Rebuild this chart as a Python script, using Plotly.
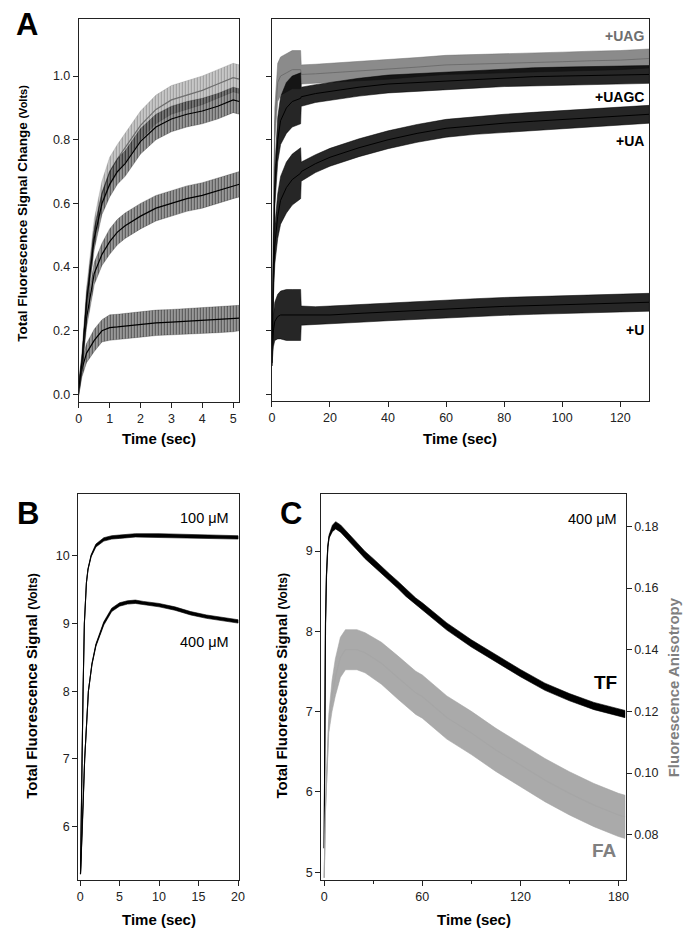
import plotly.graph_objects as go

# ---------------- data ----------------
# Panel A, left (0-5.2 s)
tA = [0, 0.1, 0.25, 0.5, 0.75, 1.0, 1.25, 1.5, 2.0, 2.5, 3.0, 3.5, 4.0, 4.5, 5.0, 5.2]
A_UAG = [0.02, 0.10, 0.30, 0.51, 0.63, 0.70, 0.74, 0.775, 0.845, 0.895, 0.925, 0.94, 0.955, 0.975, 0.995, 0.99]
A_UAGC = [0.02, 0.10, 0.29, 0.49, 0.60, 0.66, 0.70, 0.725, 0.795, 0.84, 0.865, 0.88, 0.89, 0.905, 0.925, 0.92]
A_UA = [0.02, 0.09, 0.24, 0.38, 0.44, 0.48, 0.51, 0.53, 0.56, 0.585, 0.60, 0.615, 0.625, 0.64, 0.655, 0.66]
A_U = [0.02, 0.08, 0.13, 0.17, 0.20, 0.21, 0.212, 0.215, 0.22, 0.225, 0.227, 0.23, 0.232, 0.234, 0.237, 0.24]
A_noise = [0.02, 0.025, 0.03, 0.035, 0.035, 0.04, 0.04, 0.04, 0.04, 0.04, 0.04, 0.04, 0.04, 0.04, 0.04, 0.04]

# Panel A, right (0-130 s)
tR = [0, 0.5, 1, 2, 3, 5, 7, 9.9, 10.1, 15, 20, 30, 40, 50, 60, 70, 80, 90, 100, 110, 120, 130]
R_UAG = [0.1, 0.6, 0.85, 0.98, 1.0, 1.01, 1.02, 1.02, 1.005, 1.007, 1.01, 1.015, 1.02, 1.028, 1.035, 1.037,
         1.04, 1.042, 1.045, 1.048, 1.05, 1.055]
R_UAGC = [0.1, 0.45, 0.65, 0.8, 0.86, 0.9, 0.92, 0.93, 0.935, 0.945, 0.952, 0.965, 0.975, 0.98, 0.985, 0.99,
          0.995, 0.998, 1.0, 1.002, 1.003, 1.005]
R_UA = [0.1, 0.35, 0.47, 0.56, 0.61, 0.65, 0.675, 0.695, 0.70, 0.725, 0.745, 0.775, 0.80, 0.82, 0.836, 0.845,
        0.852, 0.858, 0.864, 0.869, 0.874, 0.88]
R_U = [0.1, 0.2, 0.23, 0.245, 0.25, 0.25, 0.25, 0.25, 0.248, 0.248, 0.25, 0.255, 0.26, 0.265, 0.27, 0.273,
       0.277, 0.28, 0.283, 0.286, 0.288, 0.29]
R_noise = [0.01, 0.05, 0.06, 0.07, 0.075, 0.08, 0.08, 0.08, 0.03, 0.028, 0.028, 0.028, 0.028, 0.028, 0.028,
           0.028, 0.028, 0.028, 0.028, 0.028, 0.028, 0.028]
R_noise_gray = [0.01, 0.04, 0.05, 0.06, 0.06, 0.06, 0.06, 0.06, 0.03, 0.03, 0.03, 0.03, 0.03, 0.03, 0.03,
                0.03, 0.03, 0.03, 0.03, 0.03, 0.03, 0.03]
labels_A = ["+UAG", "+UAGC", "+UA", "+U"]

# Panel B (0-20 s)
t100 = [0.05, 0.17, 0.25, 0.375, 0.54, 0.8, 1.0, 1.4, 2.0, 3.0, 4.0, 5.0, 7.0, 10.0, 13.0, 16.0, 20.0]
B_100 = [5.3, 6.0, 7.0, 8.0, 9.0, 9.6, 9.8, 10.0, 10.15, 10.24, 10.27, 10.28, 10.3, 10.3, 10.29, 10.28, 10.27]
B_100_noise = [0, 0, 0, 0, 0, 0.005, 0.01, 0.015, 0.022, 0.025, 0.025, 0.025, 0.025, 0.025, 0.025, 0.025, 0.025]
t400 = [0.05, 0.3, 0.58, 1.05, 1.5, 2.0, 3.0, 4.0, 5.0, 6.0, 7.0, 8.0, 10.0, 12.0, 14.0, 16.0, 18.0, 20.0]
B_400 = [5.3, 6.0, 7.0, 8.0, 8.4, 8.68, 9.0, 9.2, 9.28, 9.31, 9.32, 9.3, 9.27, 9.22, 9.15, 9.1, 9.06, 9.03]
B_400_noise = [0, 0, 0, 0.003, 0.01, 0.018, 0.025, 0.025, 0.025, 0.025, 0.025, 0.025, 0.025, 0.025, 0.025,
               0.025, 0.025, 0.025]

# Panel C (0-184 s)
tTF = [0, 0.4, 0.8, 1.4, 2.2, 3, 5, 7, 10, 15, 20, 25, 30, 35, 40, 45, 50, 56, 60, 75, 90, 105, 120, 135, 150,
       165, 180, 184]
C_TF = [5.3, 6.9, 8.1, 8.7, 9.05, 9.18, 9.28, 9.32, 9.28, 9.17, 9.06, 8.95, 8.86, 8.76, 8.67, 8.58, 8.48, 8.37,
        8.31, 8.06, 7.85, 7.66, 7.48, 7.31, 7.18, 7.07, 6.99, 6.97]
C_TF_noise = [0, 0, 0, 0, 0.01, 0.02, 0.04, 0.045, 0.045, 0.045, 0.045, 0.045, 0.045, 0.045, 0.045, 0.045,
              0.045, 0.045, 0.045, 0.045, 0.045, 0.045, 0.045, 0.045, 0.045, 0.045, 0.045, 0.045]
tFA = [0, 0.8, 2.8, 4.8, 6.8, 9.9, 13, 20, 25, 35, 45, 56, 60, 75, 90, 105, 120, 135, 150, 165, 180, 184]
C_FA = [0.066, 0.089, 0.116, 0.125, 0.131, 0.1375, 0.14, 0.14, 0.139, 0.1356, 0.131, 0.126, 0.1248, 0.118,
        0.113, 0.1075, 0.1026, 0.0977, 0.0934, 0.0896, 0.0864, 0.0858]
C_FA_noise = [0, 0.001, 0.003, 0.005, 0.006, 0.0065, 0.0065, 0.0065, 0.0065, 0.0068, 0.007, 0.007, 0.007,
              0.007, 0.007, 0.007, 0.007, 0.007, 0.007, 0.007, 0.007, 0.007]

# ---------------- figure ----------------
W, H = 699, 936
OFF = 8  # page body margin offset
FONT = "Liberation Sans, Arial, Helvetica, sans-serif"


def fx(px):
    return (px - OFF) / W


def fy(py):
    return 1 - (py - OFF) / H


fig = go.Figure()


def band(t, mid, hw, xa, ya, color, fillcolor, lw=1.0, pattern=None):
    hi = [m + h for m, h in zip(mid, hw)]
    lo = [m - h for m, h in zip(mid, hw)]
    kw = {}
    if pattern is not None:
        kw["fillpattern"] = pattern
    fig.add_trace(go.Scatter(x=list(t) + list(t)[::-1], y=hi + lo[::-1], fill="toself",
                             fillcolor=fillcolor, line=dict(width=0.6, color=fillcolor), mode="lines",
                             xaxis=xa, yaxis=ya, hoverinfo="skip", showlegend=False, **kw))
    fig.add_trace(go.Scatter(x=t, y=mid, mode="lines", line=dict(color=color, width=lw),
                             xaxis=xa, yaxis=ya, showlegend=False))


GRAY = "#6e6e6e"
LGRAY = "#a6a6a6"

pat_black = dict(shape="|", size=3, solidity=0.45, fgcolor="black", bgcolor="rgba(0,0,0,0.35)")
pat_gray = dict(shape="|", size=3, solidity=0.45, fgcolor="#666666", bgcolor="rgba(120,120,120,0.35)")

# Panel A left
band(tA, A_U, A_noise, "x", "y", "black", "rgba(0,0,0,0.4)", lw=1.2, pattern=pat_black)
band(tA, A_UA, A_noise, "x", "y", "black", "rgba(0,0,0,0.4)", lw=1.2, pattern=pat_black)
band(tA, A_UAG, [v + 0.005 for v in A_noise], "x", "y", GRAY, "rgba(110,110,110,0.4)", lw=1.2,
     pattern=pat_gray)
band(tA, A_UAGC, A_noise, "x", "y", "black", "rgba(0,0,0,0.4)", lw=1.2, pattern=pat_black)

# Panel A right
band(tR, R_U, R_noise, "x2", "y2", "black", "rgba(0,0,0,0.85)")
band(tR, R_UA, R_noise, "x2", "y2", "black", "rgba(0,0,0,0.85)")
band(tR, R_UAG, R_noise_gray, "x2", "y2", GRAY, "rgba(110,110,110,0.8)")
band(tR, R_UAGC, R_noise, "x2", "y2", "black", "rgba(0,0,0,0.85)")

# Panel B
band(t100, B_100, B_100_noise, "x3", "y3", "black", "black", lw=1.1)
band(t400, B_400, B_400_noise, "x3", "y3", "black", "black", lw=1.1)

# Panel C
band(tTF, C_TF, C_TF_noise, "x4", "y4", "black", "black", lw=1.2)
band(tFA, C_FA, C_FA_noise, "x4", "y5", LGRAY, "rgba(165,165,165,0.95)", lw=1.2)

AX = dict(showline=True, linecolor="#222", linewidth=1, ticks="outside", ticklen=5, tickcolor="#222",
          tickwidth=1, showgrid=False, zeroline=False, tickfont=dict(family=FONT, size=12.5, color="#222"),
          fixedrange=True)

fig.update_layout(
    width=W, height=H, margin=dict(l=0, r=0, t=0, b=0), paper_bgcolor="white", plot_bgcolor="white",
    font=dict(family=FONT, color="black"),
    xaxis=dict(AX, domain=[fx(76.7), fx(239.3)], range=[0, 5.2], tickvals=[0, 1, 2, 3, 4, 5], mirror=True,
               anchor="y"),
    yaxis=dict(AX, domain=[fy(401.5), fy(19)], range=[-0.022, 1.179], tickvals=[0, 0.2, 0.4, 0.6, 0.8, 1.0],
               tickformat=".1f", mirror=True, anchor="x"),
    xaxis2=dict(AX, domain=[fx(272.3), fx(654.7)], range=[0, 130], tickvals=[0, 20, 40, 60, 80, 100, 120],
                mirror=True, anchor="y2"),
    yaxis2=dict(AX, domain=[fy(401), fy(18.7)], range=[-0.02, 1.18], tickvals=[0, 0.2, 0.4, 0.6, 0.8, 1.0],
                showticklabels=False, mirror=True, anchor="x2"),
    xaxis3=dict(AX, domain=[fx(76), fx(239.3)], range=[-0.25, 20.16], tickvals=[0, 5, 10, 15, 20],
                mirror=True, anchor="y3"),
    yaxis3=dict(AX, domain=[fy(880), fy(494.3)], range=[5.213, 10.906], tickvals=[6, 7, 8, 9, 10],
                mirror=True, anchor="x3"),
    xaxis4=dict(AX, domain=[fx(322.3), fx(630.7)], range=[-1.8, 184.4], tickvals=[0, 60, 120, 180],
                minor=dict(ticks="outside", ticklen=3, tickvals=[30, 90, 150], tickcolor="#222"),
                mirror=True, anchor="y4"),
    yaxis4=dict(AX, domain=[fy(880), fy(494.3)], range=[4.904, 9.706], tickvals=[5, 6, 7, 8, 9],
                anchor="x4"),
    yaxis5=dict(AX, domain=[fy(880), fy(494.3)], range=[0.0653, 0.1904],
                tickvals=[0.08, 0.10, 0.12, 0.14, 0.16, 0.18], tickformat=".2f", overlaying="y4",
                side="right", anchor="x4"),
)

ann = []


def txt(x, y, s, size, bold=False, color="black", xanchor="center", angle=0):
    ann.append(dict(x=fx(x), y=fy(y), xref="paper", yref="paper", text=(f"<b>{s}</b>" if bold else s),
                    showarrow=False, xanchor=xanchor, yanchor="middle", textangle=angle,
                    font=dict(family=FONT, size=size, color=color)))


# panel letters
txt(24, 24, "A", 31, bold=True)
txt(25, 513, "B", 31, bold=True)
txt(292, 513, "C", 31, bold=True)

# axis titles
txt(19, 213, "Total Fluorescence Signal Change <span style='font-size:11px'>(Volts)</span>", 13.5, bold=True,
    angle=-90)
txt(28, 686, "Total Fluorescence Signal <span style='font-size:12px'>(Volts)</span>", 15, bold=True, angle=-90)
txt(282, 686, "Total Fluorescence Signal <span style='font-size:12px'>(Volts)</span>", 15, bold=True, angle=-90)
txt(679, 687, "Fluorescence Anisotropy", 15, bold=True, color="#7f7f7f", angle=-90)
txt(158, 439, "Time (sec)", 15, bold=True)
txt(463, 439, "Time (sec)", 15, bold=True)
txt(158, 919, "Time (sec)", 15, bold=True)
txt(477, 919, "Time (sec)", 15, bold=True)

# series labels
txt(651, 36, labels_A[0], 14, bold=True, color="#6e6e6e", xanchor="right")
txt(651, 97, labels_A[1], 14, bold=True, xanchor="right")
txt(651, 141, labels_A[2], 14, bold=True, xanchor="right")
txt(651, 330, labels_A[3], 14, bold=True, xanchor="right")
txt(231, 518, "100 μM", 14.5, xanchor="right")
txt(231, 642, "400 μM", 14.5, xanchor="right")
txt(624, 519, "400 μM", 14.5, xanchor="right")
txt(624, 682, "TF", 19, bold=True, xanchor="right")
txt(624, 850, "FA", 19, bold=True, color="#808080", xanchor="right")

fig.update_layout(annotations=ann)
fig.write_html("out.html")
